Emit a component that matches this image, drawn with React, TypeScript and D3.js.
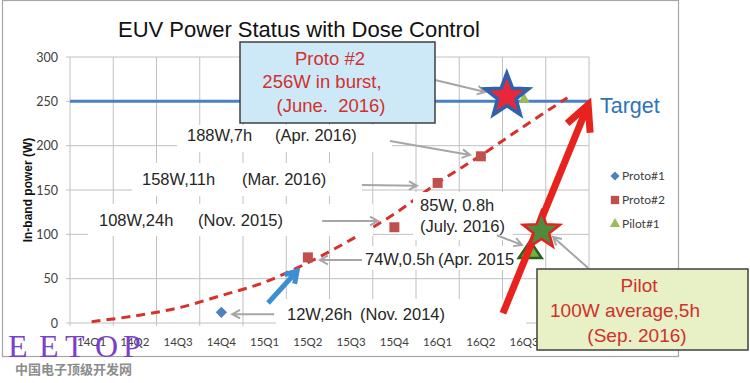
import React from 'react';
import * as d3 from 'd3';

// ---------- data ----------
const categories = ['14Q1', '14Q2', '14Q3', '14Q4', '15Q1', '15Q2', '15Q3', '15Q4', '16Q1', '16Q2', '16Q3', '16Q4'];
const yTicks = [0, 50, 100, 150, 200, 250, 300];
const proto1 = [{ cat: '14Q4', value: 12 }];
const proto2 = [
  { cat: '15Q2', value: 74 },
  { cat: '15Q4', value: 108 },
  { cat: '16Q1', value: 158 },
  { cat: '16Q2', value: 188 },
];
const pilot1 = [{ cat: '16Q3', value: 252 }];
const trendValues = [1.5, 8, 17, 31, 46, 68, 94, 123, 158, 189, 222, 254];
const targetValue = 250;
const legendItems = ['Proto#1', 'Proto#2', 'Pilot#1'];

// annotation shapes in data coordinates (x = category position, 0..12)
const blueStar = { x: 10.1, value: 256 };
const greenStar = { x: 10.9, value: 104 };
const bigTriangle = { x: 10.64, value: 80 };
const redArrow = { x1: 10.01, v1: 11, x2: 11.98, v2: 246 };
const blueArrow = { x1: 4.58, v1: 22.5, x2: 5.25, v2: 58.6 };
const grayArrows = [
  { x1: 8.44, v1: 274, x2: 9.6, v2: 260.5 },
  { x1: 7.4, v1: 205.3, x2: 9.25, v2: 189.5 },
  { x1: 6.75, v1: 155.6, x2: 8.02, v2: 154.8 },
  { x1: 5.83, v1: 115, x2: 7.12, v2: 115 },
  { x1: 6.75, v1: 71, x2: 5.78, v2: 71 },
  { x1: 4.72, v1: 10, x2: 3.75, v2: 10 },
  { x1: 9.87, v1: 99, x2: 10.45, v2: 88 },
  { x1: 11.98, v1: 62, x2: 11.17, v2: 97 },
];

// ---------- layout ----------
const W = 750;
const H = 383;
const plot = { left: 70, right: 589, top: 57, bottom: 323 };

const x = d3.scaleLinear().domain([0, categories.length]).range([plot.left, plot.right]);
const y = d3.scaleLinear().domain([0, 300]).range([plot.bottom, plot.top]);
const cx = (cat: string) => x(categories.indexOf(cat) + 0.5);

const SANS = '"Liberation Sans", Arial, sans-serif';
const CAL = 'Lato, "Open Sans", sans-serif';

function starPath(R: number, ratio = 0.42) {
  const pts: [number, number][] = [];
  for (let k = 0; k < 10; k++) {
    const a = -Math.PI / 2 + (k * Math.PI) / 5;
    const r = k % 2 === 0 ? R : R * ratio;
    pts.push([r * Math.cos(a), r * Math.sin(a)]);
  }
  return d3.line()(pts) + 'Z';
}

function arrowPath(x1: number, y1: number, x2: number, y2: number, len: number, ang: number) {
  const back = Math.atan2(y1 - y2, x1 - x2);
  const a1 = back + ang;
  const a2 = back - ang;
  return `M${x1},${y1}L${x2},${y2}M${x2 + len * Math.cos(a1)},${y2 + len * Math.sin(a1)}L${x2},${y2}L${x2 + len * Math.cos(a2)},${y2 + len * Math.sin(a2)}`;
}

// white backgrounds of the annotation text boxes
const textBoxes = [
  { x: 177, y: 125, w: 215, h: 27 },
  { x: 132, y: 163, w: 230, h: 33 },
  { x: 88, y: 204, w: 285, h: 32 },
  { x: 362, y: 246, w: 158, h: 24 },
  { x: 276, y: 299, w: 250, h: 33 },
  { x: 413, y: 192, w: 100, h: 48 },
];

const annoTexts = [
  { t: '188W,7h', x: 187, y: 141 },
  { t: '(Apr. 2016)', x: 275, y: 141 },
  { t: '158W,11h', x: 142, y: 185 },
  { t: '(Mar. 2016)', x: 242, y: 185 },
  { t: '108W,24h', x: 99, y: 226 },
  { t: '(Nov. 2015)', x: 198, y: 226 },
  { t: '74W,0.5h', x: 365, y: 265 },
  { t: '(Apr. 2015', x: 438, y: 265 },
  { t: '12W,26h', x: 287, y: 320 },
  { t: '(Nov. 2014)', x: 360, y: 320 },
  { t: '85W, 0.8h', x: 420, y: 211 },
  { t: '(July. 2016)', x: 420, y: 232 },
];

const watermark = [
  { t: 'E', x: 8 },
  { t: 'E', x: 39 },
  { t: 'T', x: 65 },
  { t: 'O', x: 95 },
  { t: 'P', x: 123 },
];

export default function App() {
  const trendLine = d3
    .line<number>()
    .x((_, i) => x(i + 0.5))
    .y((d) => y(d))
    .curve(d3.curveCatmullRom.alpha(0.5))(trendValues) as string;

  const square = d3.symbol(d3.symbolSquare, 100)() as string;
  const diamond = d3.symbol(d3.symbolSquare, 64)() as string;
  const tri = d3.symbol(d3.symbolTriangle, 55)() as string;
  const legSquare = d3.symbol(d3.symbolSquare, 70)() as string;
  const legDiamond = d3.symbol(d3.symbolSquare, 42)() as string;
  const legTri = d3.symbol(d3.symbolTriangle, 45)() as string;

  const bt = { cx: x(bigTriangle.x), cy: y(bigTriangle.value) };
  const bigTriPath = d3.line()([
    [bt.cx, bt.cy - 11],
    [bt.cx + 11.5, bt.cy + 6],
    [bt.cx - 11.5, bt.cy + 6],
  ]) + 'Z';

  return (
    <svg width={W} height={H} style={{ position: 'absolute', left: 0, top: 0, background: '#fff' }}>
      <rect x={0} y={0} width={W} height={H} fill="#fff" />
      <rect x={2.5} y={0.5} width={676} height={356} fill="#fff" stroke="#a6a6a6" strokeWidth={1.2} />

      {/* title */}
      <text x={118} y={37} fontFamily={SANS} fontSize={22} fill="#111">EUV Power Status with Dose Control</text>

      {/* gridlines */}
      <g stroke="#c0c0c0" strokeWidth={1}>
        {yTicks.map((t) => (
          <line key={'h' + t} x1={plot.left - 4} x2={plot.right} y1={y(t)} y2={y(t)} />
        ))}
        {d3.range(categories.length + 1).map((i) => (
          <line key={'v' + i} x1={x(i)} x2={x(i)} y1={plot.top} y2={plot.bottom + 3} />
        ))}
      </g>

      {/* y tick labels */}
      {yTicks.map((t) => (
        <text key={'yl' + t} x={58} y={y(t) + 4.5} textAnchor="end" fontFamily={CAL} fontSize={12.5} fill="#404040">
          {t}
        </text>
      ))}
      {/* x tick labels */}
      {categories.map((c) => (
        <text key={'xl' + c} x={cx(c)} y={346} textAnchor="middle" fontFamily={CAL} fontSize={11.5} fill="#404040">
          {c}
        </text>
      ))}
      {/* y axis title */}
      <text
        transform={`translate(32,190) rotate(-90)`}
        textAnchor="middle"
        fontFamily={SANS}
        fontWeight="bold"
        fontSize={12}
        fill="#111"
      >
        In-band power (W)
      </text>

      {/* target line */}
      <line x1={plot.left} x2={plot.right} y1={y(targetValue)} y2={y(targetValue)} stroke="#4a80c4" strokeWidth={3} />
      <text x={600} y={113} fontFamily={SANS} fontSize={21.5} fill="#2e74b5">Target</text>

      {/* trend curve */}
      <path d={trendLine} fill="none" stroke="#d9302c" strokeWidth={3} strokeDasharray="9 6" />

      {/* series */}
      {proto1.map((d) => (
        <path key={'p1' + d.cat} d={diamond} transform={`translate(${cx(d.cat)},${y(d.value)}) rotate(45)`} fill="#4f81bd" />
      ))}
      {proto2.map((d) => (
        <path key={'p2' + d.cat} d={square} transform={`translate(${cx(d.cat)},${y(d.value)})`} fill="#c0504d" />
      ))}
      {pilot1.map((d) => (
        <path key={'pl' + d.cat} d={tri} transform={`translate(${cx(d.cat)},${y(d.value)})`} fill="#9bbb59" />
      ))}

      {/* legend */}
      <g fontFamily={CAL} fontSize={12} fill="#404040">
        <path d={legDiamond} transform="translate(615,176) rotate(45)" fill="#4f81bd" />
        <text x={622} y={180}>{legendItems[0]}</text>
        <path d={legSquare} transform="translate(615,200)" fill="#c0504d" />
        <text x={622} y={204}>{legendItems[1]}</text>
        <path d={legTri} transform="translate(615,224)" fill="#9bbb59" />
        <text x={622} y={228}>{legendItems[2]}</text>
      </g>

      {/* annotation text boxes */}
      {textBoxes.map((b, i) => (
        <rect key={'tb' + i} x={b.x} y={b.y} width={b.w} height={b.h} fill="#fff" />
      ))}
      {annoTexts.map((a, i) => (
        <text key={'at' + i} x={a.x} y={a.y} fontFamily={SANS} fontSize={16.5} fill="#262626">
          {a.t}
        </text>
      ))}

      {/* gray arrows */}
      {grayArrows.map((g, i) => (
        <path
          key={'ga' + i}
          d={arrowPath(x(g.x1), y(g.v1), x(g.x2), y(g.v2), 9, 0.5)}
          fill="none"
          stroke="#a6a6a6"
          strokeWidth={2}
        />
      ))}

      {/* blue arrow */}
      <path
        d={arrowPath(x(blueArrow.x1), y(blueArrow.v1), x(blueArrow.x2), y(blueArrow.v2), 13, 0.55)}
        fill="none"
        stroke="#3e8ed4"
        strokeWidth={5}
        strokeLinejoin="miter"
      />

      {/* big pilot triangle */}
      <path d={bigTriPath} fill="#6cb33f" stroke="#2f5f1f" strokeWidth={2.5} strokeLinejoin="miter" />

      {/* red arrow */}
      <path
        d={arrowPath(x(redArrow.x1), y(redArrow.v1), x(redArrow.x2), y(redArrow.v2), 28, 0.46)}
        fill="none"
        stroke="#e8231e"
        strokeWidth={7}
        strokeLinejoin="miter"
      />

      {/* stars */}
      <path d={starPath(23)} transform={`translate(${x(blueStar.x)},${y(blueStar.value)})`} fill="#e8283a" stroke="#2e62aa" strokeWidth={3.5} strokeLinejoin="miter" />
      <path d={starPath(19.5)} transform={`translate(${x(greenStar.x)},${y(greenStar.value)})`} fill="#4e8b3d" stroke="#e3231f" strokeWidth={2.5} strokeLinejoin="miter" />

      {/* Proto #2 box */}
      <rect x={240} y={42} width={195} height={81} fill="#cde9f8" stroke="#3f3f3f" strokeWidth={1.5} />
      <g fontFamily={SANS} fontSize={18.5} fill="#d0312d" textAnchor="middle">
        <text x={330} y={65}>Proto #2</text>
        <text x={322} y={88}>256W in burst,</text>
        <text x={331} y={112} style={{ whiteSpace: 'pre' }}>{'(June.  2016)'}</text>
      </g>

      {/* Pilot box */}
      <rect x={537} y={269} width={211} height={81} fill="#e8f0c6" stroke="#404040" strokeWidth={1.5} />
      <g fontFamily={SANS} fontSize={19} fill="#d0312d" textAnchor="middle">
        <text x={639} y={292}>Pilot</text>
        <text x={625} y={317}>100W average,5h</text>
        <text x={637} y={342}>(Sep. 2016)</text>
      </g>

      {/* watermark */}
      {watermark.map((w, i) => (
        <text key={'wm' + i} x={w.x} y={357} fontFamily='"Liberation Serif", "DejaVu Serif", serif' fontSize={32} fill="#7b3fcc">
          {w.t}
        </text>
      ))}
      <text x={15} y={374} fontFamily='"Noto Sans CJK SC", sans-serif' fontSize={13} fontWeight="bold" fill="#8c8c8c">
        中国电子顶级开发网
      </text>
    </svg>
  );
}
